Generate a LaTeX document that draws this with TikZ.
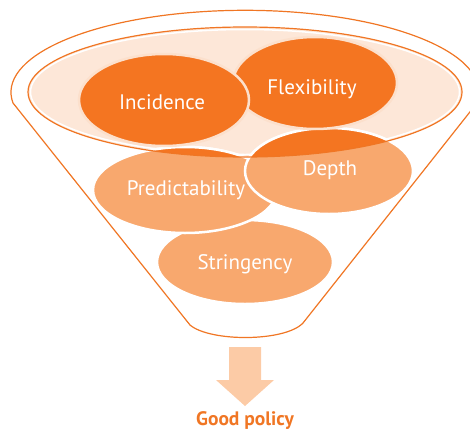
\documentclass[tikz,border=0pt]{standalone}
\usepackage{fontspec}
\setmainfont{PT Sans}
\usepackage{tikz}
\usetikzlibrary{calc}
\definecolor{funnelorange}{RGB}{240,118,36}
\definecolor{darkbubble}{RGB}{244,117,33}
\definecolor{lightbubble}{RGB}{248,168,110}
\definecolor{rimfill}{RGB}{253,231,216}
\definecolor{rimborder}{RGB}{252,224,204}
\definecolor{arrowpeach}{RGB}{252,203,166}
\newcommand\bubble[6]{
  \draw[fill=#5,draw=#6,line width=2.5pt]
    (#1,#2) ellipse ({#3} and {#4});
}
\tikzset{
  bubbletext/.style={text=white,anchor=base,font=\fontsize{21}{25}\selectfont},
  funnelline/.style={draw=funnelorange,line width=1.2pt}
}

\begin{document}
\begin{tikzpicture}[x=1pt,y=-1pt]
  \useasboundingbox (0,0) rectangle (470,431);

  % funnel body and outer rim
  \draw[funnelline,fill=white] (477,103) -- (303,323)
    .. controls (285,342) and (210,342) .. (190,325) -- (13,103)
    arc[start angle=172.5,end angle=367.5,x radius=234,y radius=82] -- cycle;

  \fill[rimfill] (245,92) ellipse (217 and 65);
  \draw[white,line width=1.5pt] (245,92) ellipse (214.5 and 62.5);

  \bubble{245}{262}{88}{42}{lightbubble}{white}
  \bubble{185}{190}{92}{43}{lightbubble}{white}
  \bubble{329}{171}{84}{43}{lightbubble}{white}
  \begin{scope}
    \clip (245,92) ellipse (217 and 65);
    \bubble{185}{190}{92}{43}{darkbubble}{white}
    \bubble{329}{171}{84}{43}{darkbubble}{white}
  \end{scope}
  \draw[funnelline] (245,92) ellipse (217 and 65);

  \bubble{315}{83}{82}{46}{darkbubble}{rimborder}
  \bubble{164}{100}{85}{46}{darkbubble}{rimborder}

  \node[bubbletext] (incidence) at (162,109) {Incidence};
  \node[bubbletext] (flexibility) at (312,94) {Flexibility};
  \node[bubbletext] (depth) at (330,175) {Depth};
  \node[bubbletext] (predictability) at (186,195) {Predictability};
  \node[bubbletext] (stringency) at (245,269) {Stringency};

  \fill[arrowpeach] (229,347) -- (261,347) -- (261,380) -- (274,380)
    -- (245,406) -- (216,380) -- (229,380) -- cycle;
  \node[anchor=base,text=funnelorange,inner sep=0pt,
    font=\bfseries\fontsize{19.5}{23}\selectfont]
    (goodpolicy) at (245,425) {Good policy};
\end{tikzpicture}
\end{document}
